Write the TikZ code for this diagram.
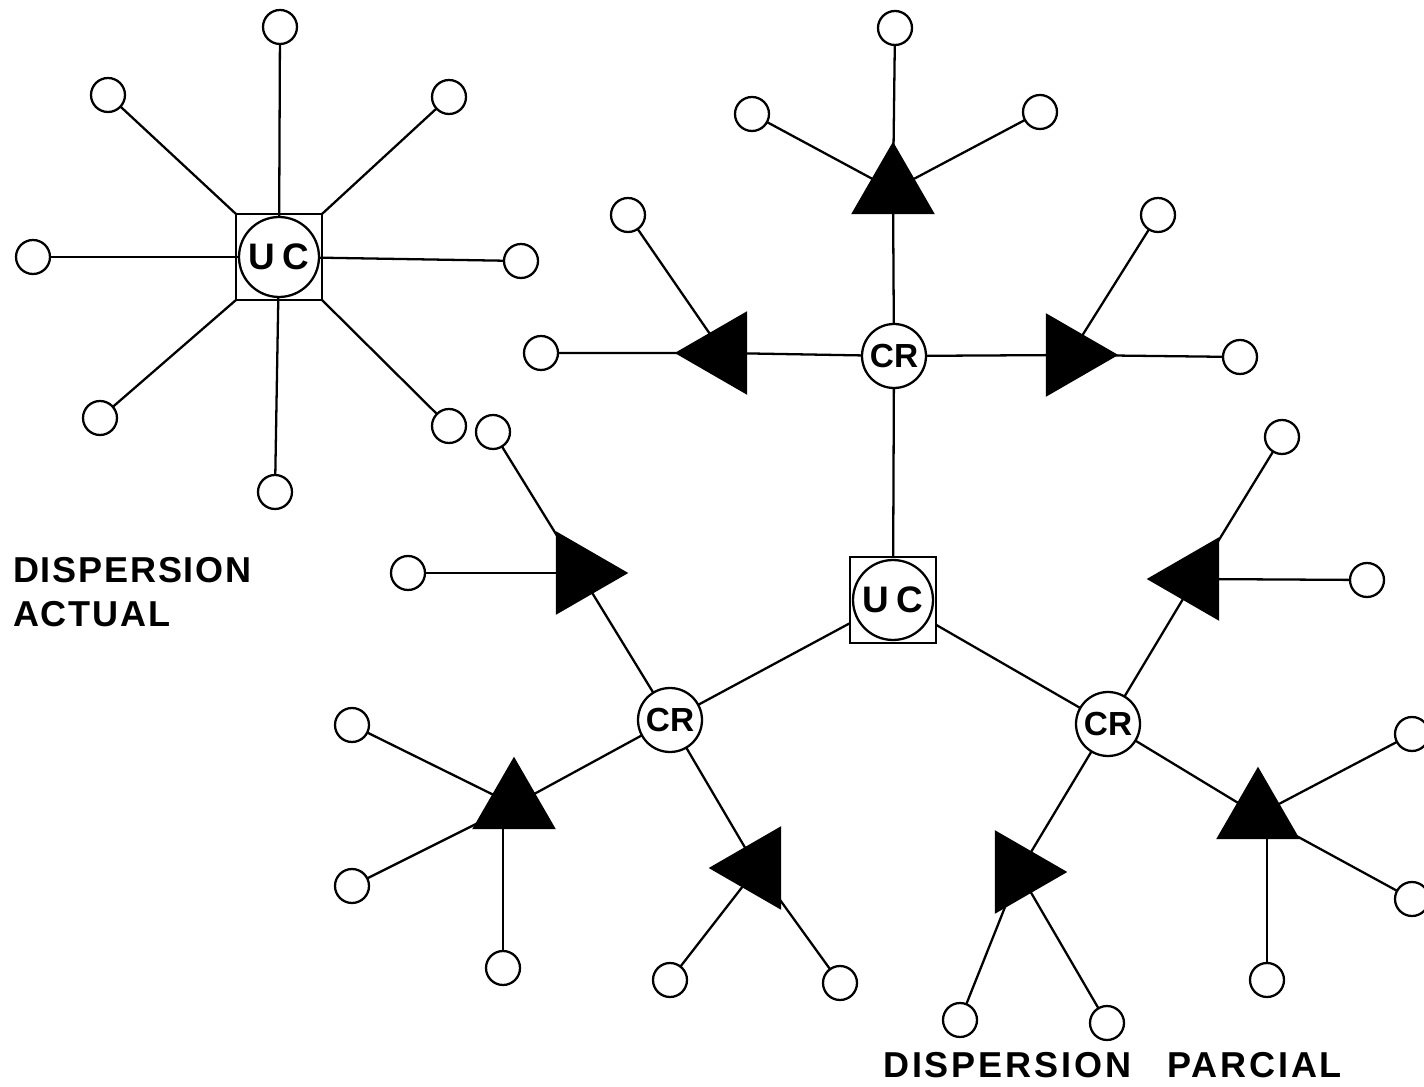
\documentclass[tikz,border=0pt]{standalone}
\usepackage{fontspec}
\setmainfont{Liberation Sans}
\usetikzlibrary{shapes.geometric}
\begin{document}
\begin{tikzpicture}[x=0.02cm,y=-0.02cm,line width=1.3pt,
 leaf/.style={circle,draw,fill=white,minimum size=0.68cm,inner sep=0pt,outer sep=0pt},
 ucsq/.style={rectangle,draw,minimum size=1.72cm,inner sep=0pt,outer sep=0pt},
 uccir/.style={circle,draw,fill=white,minimum size=1.6cm,inner sep=0pt,outer sep=0pt,font=\fontsize{21}{21}\selectfont\bfseries},
 crnode/.style={circle,draw,fill=white,minimum size=1.28cm,inner sep=0pt,outer sep=0pt,font=\fontsize{19}{19}\selectfont\bfseries},
 tri/.style={regular polygon,regular polygon sides=3,fill=black,draw=black,minimum size=1.84cm,inner sep=0pt,outer sep=0pt},
 lbl/.style={anchor=base west,inner sep=0pt,font=\fontsize{20.5}{25}\selectfont\bfseries\addfontfeature{LetterSpace=5}},
 lblb/.style={anchor=base west,inner sep=0pt,font=\fontsize{20.5}{25}\selectfont\bfseries\addfontfeature{LetterSpace=8}}
]
\useasboundingbox (0,0) rectangle (1424,1087);

% ---- Dispersion actual ----
\node[ucsq] (ucA) at (279,257) {};
\node[uccir] (ucAc) at (279,257) {U\hspace{0.16cm}C};
\node[leaf] (lA1) at (280,27) {};
\node[leaf] (lA2) at (108,95) {};
\node[leaf] (lA3) at (449,97) {};
\node[leaf] (lA4) at (33,257) {};
\node[leaf] (lA5) at (521,261) {};
\node[leaf] (lA6) at (100,418) {};
\node[leaf] (lA7) at (275,492) {};
\node[leaf] (lA8) at (449,426) {};
\draw (ucAc) -- (lA1);
\draw (ucA.north west) -- (lA2);
\draw (ucA.north east) -- (lA3);
\draw (ucAc) -- (lA4);
\draw (ucAc) -- (lA5);
\draw (ucA.south west) -- (lA6);
\draw (ucAc) -- (lA7);
\draw (ucA.south east) -- (lA8);

% ---- Dispersion parcial ----
\node[ucsq] (ucB) at (893,600) {};
\node[uccir] (ucBc) at (893,600) {U\hspace{0.16cm}C};
\node[crnode] (crT) at (894,356) {CR};
\node[crnode] (crL) at (670,720) {CR};
\node[crnode] (crR) at (1108,724) {CR};
\draw (ucB) -- (crT);
\draw (ucB) -- (crL);
\draw (ucB) -- (crR);

% top CR
\node[tri] (tT) at (893,190) {};
\node[tri,shape border rotate=90] (tL) at (723,353) {};
\node[tri,shape border rotate=-90] (tR) at (1070,355) {};
\node[leaf] (tTa) at (895,28) {};
\node[leaf] (tTb) at (752,114) {};
\node[leaf] (tTc) at (1040,112) {};
\node[leaf] (tLa) at (541,353) {};
\node[leaf] (tLb) at (628,215) {};
\node[leaf] (tRa) at (1240,357) {};
\node[leaf] (tRb) at (1158,215) {};
\draw (crT) -- (tT) -- (tTa);
\draw (tT) -- (tTb);
\draw (tT) -- (tTc);
\draw (crT) -- (tL) -- (tLa);
\draw (tL) -- (tLb);
\draw (crT) -- (tR) -- (tRa);
\draw (tR) -- (tRb);

% lower left CR
\node[tri,shape border rotate=-90] (uA) at (580,573) {};
\node[tri] (uB) at (514,805) {};
\node[tri,shape border rotate=90] (uC) at (757,868) {};
\node[leaf] (uAa) at (493,432) {};
\node[leaf] (uAb) at (408,573) {};
\node[leaf] (uBa) at (352,725) {};
\node[leaf] (uBb) at (352,886) {};
\node[leaf] (uBc) at (503,968) {};
\node[leaf] (uCa) at (670,980) {};
\node[leaf] (uCb) at (840,983) {};
\draw (crL) -- (uA) -- (uAa);
\draw (uA) -- (uAb);
\draw (crL) -- (uB) -- (uBb);
\draw (uB) -- (uBa);
\draw (uBc) -- (uBc |- uB.south);
\draw (crL) -- (uC) -- (uCb);
\draw (uC) -- (uCa);

% lower right CR
\node[tri,shape border rotate=90] (vA) at (1195,579) {};
\node[tri] (vB) at (1258,815) {};
\node[tri,shape border rotate=-90] (vC) at (1019,872) {};
\node[leaf] (vAa) at (1282,437) {};
\node[leaf] (vAb) at (1367,580) {};
\node[leaf] (vBa) at (1412,734) {};
\node[leaf] (vBb) at (1412,899) {};
\node[leaf] (vBc) at (1267,980) {};
\node[leaf] (vCa) at (960,1020) {};
\node[leaf] (vCb) at (1107,1023) {};
\draw (crR) -- (vA) -- (vAa);
\draw (vA) -- (vAb);
\draw (crR) -- (vB) -- (vBb);
\draw (vB) -- (vBa);
\draw (vBc) -- (vBc |- vB.south);
\draw (crR) -- (vC) -- (vCa);
\draw (vC) -- (vCb);

% labels
\node[lbl] (labA1) at (12,583) {DISPERSION};
\node[lbl] (labA2) at (12,627) {ACTUAL};
\node[lblb] (labB) at (882,1077) {DISPERSION\hspace{0.72cm}PARCIAL};
\end{tikzpicture}
\end{document}
